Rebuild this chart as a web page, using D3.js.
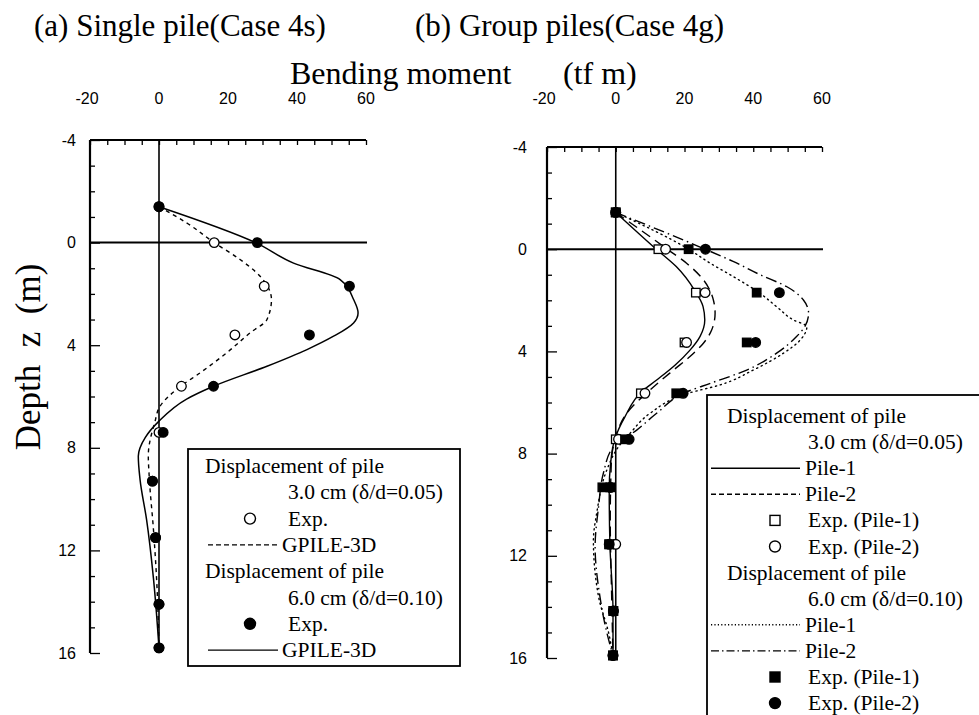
<!DOCTYPE html>
<html><head><meta charset="utf-8">
<script src="https://cdn.jsdelivr.net/npm/d3@7"></script>
<style>html,body{margin:0;padding:0;background:#fff;} svg{display:block;}</style>
</head><body>
<script>
// ---------- DATA ----------
const xTicks = [-20, 0, 20, 40, 60];
const yTicks = [-4, 0, 4, 8, 12, 16];

// (a) single pile: experimental depths and values
const singleExpDepth = [-1.4, 0, 1.7, 3.6, 5.6, 7.4, 9.3, 11.5, 14.1, 15.8];
const single3Exp = [0, 16, 30.5, 22, 6.5, 0, -1.9, -1, 0, 0];
const single6Exp = [0, 28.5, 55.2, 43.6, 15.8, 1.2, -1.9, -1, 0, 0];

// (a) GPILE-3D 3.0 cm (dashed)
const single3CalcDepth = [-1.4, -0.77, 0, 0.66, 1.31, 2.22, 3.0, 3.52, 4.3, 5.08, 5.6, 6.38, 7.0, 8.3, 9.2, 11.2, 13.1, 15.8];
const single3Calc = [0, 8, 16, 23.5, 29.3, 32.6, 31.3, 26.4, 19.6, 11.9, 6.3, 0.3, -1.2, -3.1, -2.8, -1.6, -0.7, 0];
// (a) GPILE-3D 6.0 cm (solid)
const single6CalcDepth = [-1.4, 0, 0.8, 1.44, 2.22, 2.74, 3.13, 3.65, 4.17, 4.82, 5.6, 6.1, 6.96, 7.6, 8.33, 9.23, 10.8, 13.1, 15.8];
const single6Calc = [0, 28, 39, 52.5, 56.4, 57.7, 56.4, 50.6, 42.9, 31.3, 15.8, 8, 0, -4, -6, -5.5, -3.6, -1.6, 0];

// (b) group piles: experimental
const groupExpDepth = [-1.44, 0, 1.7, 3.65, 5.64, 7.44, 9.32, 11.55, 14.16, 15.9];
const group3P1Exp = [0, 12.4, 23.3, 20, 7.3, 0, -1.6, -1.9, -0.7, -0.8];
const group3P2Exp = [0, 14.5, 26, 20.6, 8.5, 0.8, -1.6, 0, -0.7, -0.8];
const group6P1Exp = [0, 21.2, 41, 38.1, 17.6, 2.7, -3.9, -1.9, -0.7, -0.8];
const group6P2Exp = [0, 26.1, 47.6, 40.7, 19.6, 3.9, -1.6, -1.9, -0.7, -0.8];

// (b) calculated curves
const g3P1Depth = [-1.44, 0, 0.68, 1.6, 2.25, 2.77, 3.42, 3.95, 4.53, 5.12, 5.58, 6.55, 7.44, 8.38, 9.42, 11.55, 14.16, 15.9];
const g3P1 = [0, 11.8, 17.6, 22.9, 25.4, 25.9, 24.5, 21.6, 17.3, 11.9, 7.5, 2.7, -0.3, -1.5, -1.9, -1.7, -0.8, -0.8];
const g3P2Depth = [-1.44, 0, 0.55, 1.2, 1.99, 2.51, 3.16, 3.68, 4.2, 4.73, 5.51, 6.42, 7.2, 8.4, 10.6, 13.5, 15.9];
const g3P2 = [0, 15, 20.6, 25.5, 28.4, 28.9, 27.9, 25.5, 21.6, 16.8, 10, 3.2, 0.3, -1.3, -1.6, -1.2, -0.8];
const g6P1Depth = [-1.44, 0, 0.55, 1.08, 1.73, 2.25, 2.77, 3.03, 3.55, 4.07, 4.73, 5.31, 5.64, 6.42, 7.2, 7.73, 8.64, 10.3, 11.4, 13.6, 15.0, 15.9];
const g6P1 = [0, 21.2, 27.5, 34.3, 42, 46.8, 51.7, 55.6, 53.7, 48.8, 40, 30.4, 21, 10, 4.2, 0.8, -2.6, -5.5, -6.5, -5, -2.1, -0.8];
const g6P2Depth = [-1.44, 0, 0.49, 1.0, 1.47, 1.99, 2.51, 3.03, 3.42, 4.07, 4.73, 5.25, 5.58, 6.42, 7.08, 7.73, 8.77, 10.08, 11.64, 13.6, 15.0, 15.9];
const g6P2 = [0, 26, 34.3, 42, 49.8, 54.6, 56.1, 55, 52.6, 46.8, 38.1, 27.5, 20.7, 11.9, 6.1, -0.7, -3.6, -5, -6, -4.6, -2.6, -0.8];

// text
const titleA = "(a) Single pile(Case 4s)";
const titleB = "(b) Group piles(Case 4g)";
const xLabelA = "Bending moment";
const xLabelB = "(tf m)";
const yLabel = "Depth\u00a0\u00a0z\u00a0\u00a0(m)";
const legendALabels = ["Displacement of pile", "3.0 cm (\u03b4/d=0.05)", "Exp.", "GPILE-3D",
                       "Displacement of pile", "6.0 cm (\u03b4/d=0.10)", "Exp.", "GPILE-3D"];
const legendBLabels = ["Displacement of pile", "3.0 cm (\u03b4/d=0.05)", "Pile-1", "Pile-2", "Exp. (Pile-1)", "Exp. (Pile-2)",
                       "Displacement of pile", "6.0 cm (\u03b4/d=0.10)", "Pile-1", "Pile-2", "Exp. (Pile-1)", "Exp. (Pile-2)"];

// ---------- DRAW ----------
const W = 979, H = 715;
const svg = d3.select("body").append("svg").attr("width", W).attr("height", H);
const serif = "'Liberation Serif','Times New Roman',serif";
const sans = "'Liberation Sans',Arial,sans-serif";

svg.append("text").attr("x", 34).attr("y", 36).attr("font-family", serif).attr("font-size", 31).text(titleA);
svg.append("text").attr("x", 415).attr("y", 36).attr("font-family", serif).attr("font-size", 31).text(titleB);
const xl = svg.append("text").attr("y", 84).attr("font-family", serif).attr("font-size", 32);
xl.append("tspan").attr("x", 290).text(xLabelA);
xl.append("tspan").attr("x", 563).text(xLabelB);
svg.append("text").attr("transform", "translate(40,357) rotate(-90)").attr("text-anchor", "middle")
  .attr("font-family", serif).attr("font-size", 35).text(yLabel);

function zip(d, v) { return d.map((z, i) => ({ z: z, v: v[i] })); }

function panel(xr, yr, labelRight) {
  const x = d3.scaleLinear().domain([-20, 60]).range(xr);
  const y = d3.scaleLinear().domain([-4, 16]).range(yr);
  const g = svg.append("g");
  // top axis
  const top = d3.axisTop(x).tickValues(d3.range(-20, 61, 5)).tickSize(-5).tickFormat("");
  const gt = g.append("g").attr("transform", `translate(0,${y(-4)})`).call(top);
  gt.select(".domain").attr("d", `M${x(-20)},0H${x(60)}`).attr("stroke-width", 2.2);
  gt.selectAll(".tick line").attr("stroke-width", 1.3);
  // tick labels
  g.selectAll(".xl").data(xTicks).enter().append("text")
    .attr("x", d => x(d) - (d < 0 ? 3 : 0)).attr("y", 104).attr("text-anchor", "middle")
    .attr("font-family", sans).attr("font-size", 16).text(d => d);
  // left axis
  const left = d3.axisLeft(y).tickValues(d3.range(-4, 17, 1)).tickSize(-5).tickFormat("");
  const gl = g.append("g").attr("transform", `translate(${x(-20)},0)`).call(left);
  gl.select(".domain").attr("d", `M0,${y(-4)}V${y(16)}`).attr("stroke-width", 2.2);
  gl.selectAll(".tick line").attr("stroke-width", 1.3).attr("x2", d => (d % 4 === 0 ? 10 : 5));
  g.selectAll(".yl").data(yTicks).enter().append("text")
    .attr("x", labelRight).attr("y", d => y(d)).attr("dy", "0.35em").attr("text-anchor", "end")
    .attr("font-family", sans).attr("font-size", 16).text(d => d);
  // zero lines
  g.append("line").attr("x1", x(-20)).attr("x2", x(60) + 1).attr("y1", y(0)).attr("y2", y(0)).attr("stroke", "#000").attr("stroke-width", 2);
  g.append("line").attr("x1", x(0)).attr("x2", x(0)).attr("y1", y(-4)).attr("y2", y(16)).attr("stroke", "#000").attr("stroke-width", 1.6);
  return { x, y, g };
}

function curve(p, depth, vals, dash, sw) {
  const line = d3.line().x(d => p.x(d.v)).y(d => p.y(d.z)).curve(d3.curveMonotoneY);
  p.g.append("path").datum(zip(depth, vals)).attr("d", line).attr("fill", "none")
    .attr("stroke", "#000").attr("stroke-width", sw || 1.4).attr("stroke-dasharray", dash || null)
    .attr("stroke-linecap", dash && dash.startsWith("1.") ? "round" : "butt");
}
function markers(p, depth, vals, type) {
  const data = zip(depth, vals);
  const sel = p.g.selectAll(null).data(data).enter();
  if (type === "oc" || type === "fc") {
    sel.append("circle").attr("cx", d => p.x(d.v)).attr("cy", d => p.y(d.z)).attr("r", 4.8)
      .attr("fill", type === "fc" ? "#000" : "#fff").attr("stroke", "#000").attr("stroke-width", 1.3);
  } else {
    const s = 8.5;
    sel.append("rect").attr("x", d => p.x(d.v) - s / 2).attr("y", d => p.y(d.z) - s / 2).attr("width", s).attr("height", s)
      .attr("fill", type === "fs" ? "#000" : "#fff").attr("stroke", "#000").attr("stroke-width", 1.3);
  }
}

// Panel (a)
const pA = panel([90, 366], [140, 653], 76);
curve(pA, single3CalcDepth, single3Calc, "4,4");
curve(pA, single6CalcDepth, single6Calc, null, 1.5);
markers(pA, singleExpDepth, single3Exp, "oc");
markers(pA, singleExpDepth, single6Exp, "fc");

// Panel (b)
const pB = panel([547, 822], [147, 658], 527);
curve(pB, g3P1Depth, g3P1, null, 1.4);
curve(pB, g3P2Depth, g3P2, "10,6");
curve(pB, g6P1Depth, g6P1, "1.2,3.8");
curve(pB, g6P2Depth, g6P2, "11,4,1.5,4");
markers(pB, groupExpDepth, group3P1Exp, "os");
markers(pB, groupExpDepth, group3P2Exp, "oc");
markers(pB, groupExpDepth, group6P2Exp, "fc");
markers(pB, groupExpDepth, group6P1Exp, "fs");

// ---------- LEGENDS ----------
function legendSymbol(g, kind, x1, x2, mx, y) {
  if (["solid", "dash", "dot", "dashdot"].includes(kind)) {
    const da = { solid: null, dash: "5,3", dot: "1.2,2.2", dashdot: "8,3,1.5,3" }[kind];
    g.append("line").attr("x1", x1).attr("x2", x2).attr("y1", y).attr("y2", y).attr("stroke", "#000")
      .attr("stroke-width", 1.4).attr("stroke-dasharray", da);
  } else if (kind === "oc" || kind === "fc") {
    g.append("circle").attr("cx", mx).attr("cy", y).attr("r", 5.5).attr("fill", kind === "fc" ? "#000" : "#fff")
      .attr("stroke", "#000").attr("stroke-width", 1.4);
  } else if (kind === "os" || kind === "fs") {
    g.append("rect").attr("x", mx - 5).attr("y", y - 5).attr("width", 10).attr("height", 10)
      .attr("fill", kind === "fs" ? "#000" : "#fff").attr("stroke", "#000").attr("stroke-width", 1.4);
  }
}

// Legend A
const lgA = svg.append("g");
lgA.append("rect").attr("x", 188).attr("y", 449).attr("width", 272).attr("height", 217)
  .attr("fill", "#fff").attr("stroke", "#000").attr("stroke-width", 1.8);
const symA = [null, null, "oc", "dash", null, null, "fc", "solid"];
const txA = [205, 288, 288, 282, 205, 288, 288, 282];
legendALabels.forEach((t, i) => {
  const by = 473 + i * 26.3;
  if (symA[i]) legendSymbol(lgA, symA[i], 208, 278, 250, by - 7);
  lgA.append("text").attr("x", txA[i]).attr("y", by).attr("font-family", serif).attr("font-size", 21.5).text(t);
});

// Legend B
const lgB = svg.append("g");
lgB.append("rect").attr("x", 707).attr("y", 395).attr("width", 300).attr("height", 340)
  .attr("fill", "#fff").attr("stroke", "#000").attr("stroke-width", 1.8);
const symB = [null, null, "solid", "dash", "os", "oc", null, null, "dot", "dashdot", "fs", "fc"];
const txB = [727, 808, 805, 805, 808, 808, 727, 808, 805, 805, 808, 808];
legendBLabels.forEach((t, i) => {
  const by = 423 + i * 26.1;
  if (symB[i]) legendSymbol(lgB, symB[i], 711, 800, 775, by - 7);
  lgB.append("text").attr("x", txB[i]).attr("y", by).attr("font-family", serif).attr("font-size", 21.5).text(t);
});
</script>
</body></html>
